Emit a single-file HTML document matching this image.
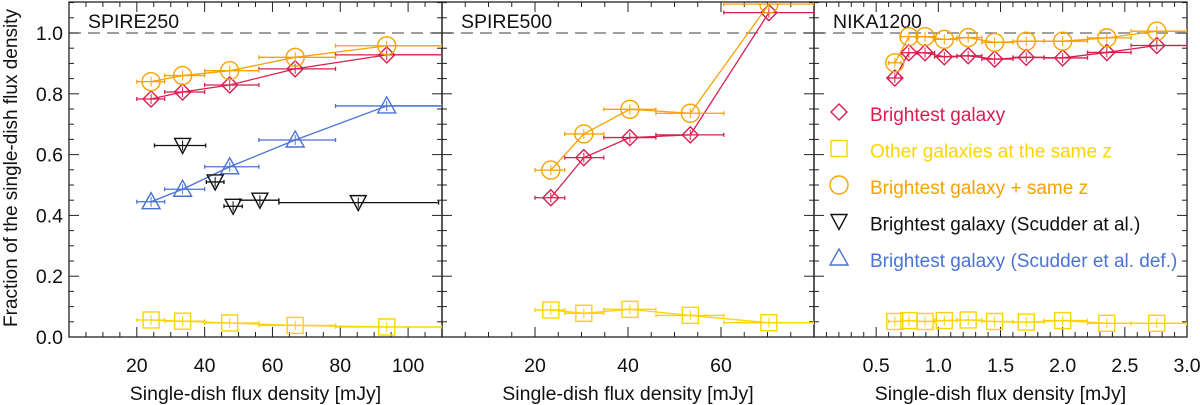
<!DOCTYPE html>
<html><head><meta charset="utf-8"><style>
body{margin:0;background:#fff;}
svg{display:block;font-family:"Liberation Sans",sans-serif;}
</style></head><body>
<svg id="chart" width="1200" height="405"></svg>
<script>
// ---------- data ----------
const p1X = [24.2, 33.5, 47.4, 66.7, 93.7];
const p1Edges = [20, 28.2, 40, 56, 78.6, 110];
const p1Red = [0.783, 0.806, 0.829, 0.882, 0.928];
const p1Orange = [0.840, 0.860, 0.876, 0.920, 0.958];
const p1Yellow = [0.056, 0.052, 0.046, 0.038, 0.033];
const p1Blue = [0.445, 0.486, 0.560, 0.648, 0.760];
const p1BlackX = [33.5, 43.1, 48.4, 56.3, 85.3];
const p1BlackY = [0.630, 0.510, 0.430, 0.450, 0.442];
const p1BlackLo = [25.2, 40.5, 45.7, 50.4, 61.9];
const p1BlackHi = [40.3, 45.7, 51.1, 61.9, 109];

const p2X = [23.4, 30.5, 40.4, 53.4, 70.3];
const p2Edges = [20, 26.4, 34.8, 46, 60.6, 80];
const p2Red = [0.458, 0.590, 0.656, 0.665, 1.067];
const p2Orange = [0.549, 0.668, 0.749, 0.736, 1.095];
const p2Yellow = [0.089, 0.078, 0.091, 0.071, 0.047];

const p3X = [0.65, 0.763, 0.893, 1.048, 1.24, 1.453, 1.707, 2.0, 2.355, 2.757];
const p3Edges = [0.6, 0.7, 0.83, 0.97, 1.15, 1.35, 1.6, 1.85, 2.2, 2.55, 3.0];
const p3Red = [0.852, 0.935, 0.935, 0.922, 0.925, 0.914, 0.920, 0.918, 0.936, 0.959];
const p3Orange = [0.902, 0.988, 0.988, 0.979, 0.985, 0.969, 0.973, 0.973, 0.984, 1.006];
const p3Yellow = [0.051, 0.054, 0.051, 0.054, 0.056, 0.051, 0.049, 0.054, 0.045, 0.045];

const yTicks = ["0.0","0.2","0.4","0.6","0.8","1.0"];
const p1Ticks = ["20","40","60","80","100"];
const p2Ticks = ["20","40","60"];
const p3Ticks = ["0.5","1.0","1.5","2.0","2.5","3.0"];

// ---------- drawing ----------
const NS="http://www.w3.org/2000/svg";
const svg=document.getElementById('chart');
const C={red:"#d81e4f",orange:"#f8a200",yellow:"#fcd400",blue:"#4a72d8",black:"#111"};
function el(tag,attrs,parent){const e=document.createElementNS(NS,tag);for(const k in attrs)e.setAttribute(k,attrs[k]);(parent||svg).appendChild(e);return e;}
const top0=2,bot=337;
function Y(v){return bot-v*304;}
const panels=[
 {name:"spire250",l:69,r:442,xmin:0,xmax:110,major:20,minor:5,ticks:p1Ticks,title:"SPIRE250"},
 {name:"spire500",l:442,r:814,xmin:0,xmax:80,major:20,minor:5,ticks:p2Ticks,title:"SPIRE500"},
 {name:"nika1200",l:814,r:1187,xmin:0,xmax:3,major:0.5,minor:0.1,ticks:p3Ticks,title:"NIKA1200"}
];
function mk(p){return v=>p.l+(v-p.xmin)/(p.xmax-p.xmin)*(p.r-p.l);}

function marker(g,type,x,y,color){
 const s=8;let e;
 if(type==='diamond')e=el('polygon',{points:`${x},${y-s} ${x+s},${y} ${x},${y+s} ${x-s},${y}`},g);
 else if(type==='square')e=el('rect',{x:x-s,y:y-s,width:2*s,height:2*s},g);
 else if(type==='circle')e=el('circle',{cx:x,cy:y,r:s+1},g);
 else if(type==='down')e=el('polygon',{points:`${x-s},${y-s+1} ${x+s},${y-s+1} ${x},${y+s}`},g);
 else e=el('polygon',{points:`${x-s-1},${y+s-1} ${x+s+1},${y+s-1} ${x},${y-s-1}`},g);
 e.setAttribute('fill','none');e.setAttribute('stroke',color);e.setAttribute('stroke-width','1.4');
 
 
 return e;
}
function series(p,name,xs,ys,lo,hi,type,color,connect,extend){
 const X=mk(p);const g=el('g',{},svg);
 
 
 if(connect){
  let pts=xs.map((x,i)=>`${X(x)},${Y(ys[i])}`);
  if(extend)pts.push(`${p.r},${Y(ys[ys.length-1])}`);
  el('polyline',{points:pts.join(' '),fill:'none',stroke:color,'stroke-width':1.3},g);
 }
 xs.forEach((x,i)=>{
  const y=Y(ys[i]);
  el('line',{x1:X(lo[i]),x2:Math.min(X(hi[i]),p.r),y1:y,y2:y,stroke:color,'stroke-width':1.3},g);
  el('line',{x1:X(lo[i]),x2:X(lo[i]),y1:y-2,y2:y+2,stroke:color,'stroke-width':1.3},g);
  el('line',{x1:X(hi[i]),x2:X(hi[i]),y1:y-2,y2:y+2,stroke:color,'stroke-width':1.3},g);
  el('line',{x1:X(x),x2:X(x),y1:y-5,y2:y+5,stroke:color,'stroke-width':1},g);
  marker(g,type,X(x),y,color);
 });
}
const clip=el('defs',{});
panels.forEach((p,pi)=>{
 const X=mk(p);
 const cp=el('clipPath',{id:'cp'+pi},clip);el('rect',{x:p.l,y:top0,width:p.r-p.l,height:bot-top0},cp);
 const dash=el('line',{x1:p.l,x2:p.r,y1:Y(1),y2:Y(1),stroke:'#666','stroke-width':1.2,'stroke-dasharray':'12,7'});
 
 
 const frame=el('rect',{x:p.l,y:top0,width:p.r-p.l,height:bot-top0,fill:'none',stroke:'#222','stroke-width':1.3});
 
 
 const tg=el('g',{stroke:'#222','stroke-width':1});
 
 
 const nMinor=Math.round((p.xmax-p.xmin)/p.minor);
 for(let i=0;i<=nMinor;i++){const v=p.xmin+i*p.minor;const x=X(v);
  const isMaj=Math.abs(v/p.major-Math.round(v/p.major))<1e-6;const L=isMaj?10:5;
  el('line',{x1:x,x2:x,y1:bot,y2:bot-L},tg);el('line',{x1:x,x2:x,y1:top0,y2:top0+L},tg);}
 for(let i=0;i<=22;i++){const v=i*0.05;const y=Y(v);const L=(i%4===0)?10:5;
  el('line',{x1:p.l,x2:p.l+L,y1:y,y2:y},tg);el('line',{x1:p.r,x2:p.r-L,y1:y,y2:y},tg);}
 p.ticks.forEach(t=>{const tx=el('text',{x:X(parseFloat(t)),y:372,'text-anchor':'middle','font-size':19.5,fill:'#111'});tx.textContent=t;
  
  });
 const xt=el('text',{x:(p.l+p.r)/2,y:400,'text-anchor':'middle','font-size':19.5,fill:'#111'});xt.textContent='Single-dish flux density [mJy]';
 
 
 const tt=el('text',{x:p.l+19,y:28,'font-size':19.5,fill:'#111'});tt.textContent=p.title;
 
 
});
yTicks.forEach(t=>{const tx=el('text',{x:63,y:Y(parseFloat(t))+7,'text-anchor':'end','font-size':19.5,fill:'#111'});tx.textContent=t;
 
 });
const yt=el('text',{x:0,y:0,transform:'translate(17,168) rotate(-90)','text-anchor':'middle','font-size':19,fill:'#111'});yt.textContent='Fraction of the single-dish flux density';



const P=panels;
const lo1=p1Edges.slice(0,-1),hi1=p1Edges.slice(1);
const lo2=p2Edges.slice(0,-1),hi2=p2Edges.slice(1);
const lo3=p3Edges.slice(0,-1),hi3=p3Edges.slice(1);
function clipped(pi,f){f();const g=svg.lastChild;g.setAttribute('clip-path',`url(#cp${pi})`);}
clipped(0,()=>series(P[0],'yellow',p1X,p1Yellow,lo1,hi1,'square',C.yellow,true,true));
clipped(0,()=>series(P[0],'blue',p1X,p1Blue,lo1,hi1,'up',C.blue,true,true));
clipped(0,()=>series(P[0],'red',p1X,p1Red,lo1,hi1,'diamond',C.red,true,true));
clipped(0,()=>series(P[0],'orange',p1X,p1Orange,lo1,hi1,'circle',C.orange,true,true));
clipped(0,()=>series(P[0],'black',p1BlackX,p1BlackY,p1BlackLo,p1BlackHi,'down',C.black,false,false));
clipped(1,()=>series(P[1],'yellow',p2X,p2Yellow,lo2,hi2,'square',C.yellow,true,true));
clipped(1,()=>series(P[1],'red',p2X,p2Red,lo2,hi2,'diamond',C.red,true,false));
clipped(1,()=>series(P[1],'orange',p2X,p2Orange,lo2,hi2,'circle',C.orange,true,false));
clipped(2,()=>series(P[2],'yellow',p3X,p3Yellow,lo3,hi3,'square',C.yellow,true,true));
clipped(2,()=>series(P[2],'red',p3X,p3Red,lo3,hi3,'diamond',C.red,true,true));
clipped(2,()=>series(P[2],'orange',p3X,p3Orange,lo3,hi3,'circle',C.orange,true,true));

// legend
const legend=[["diamond",C.red,"Brightest galaxy"],["square",C.yellow,"Other galaxies at the same z"],["circle",C.orange,"Brightest galaxy + same z"],["down",C.black,"Brightest galaxy (Scudder at al.)"],["up",C.blue,"Brightest galaxy (Scudder et al. def.)"]];
const lg=el('g',{});


legend.forEach((d,i)=>{const y=112+i*36.5;
 marker(lg,d[0],839,y,d[1]);
 const t=el('text',{x:870,y:y+9,'font-size':19,fill:d[1]},lg);t.textContent=d[2];
 
 
});
</script>
</body></html>
